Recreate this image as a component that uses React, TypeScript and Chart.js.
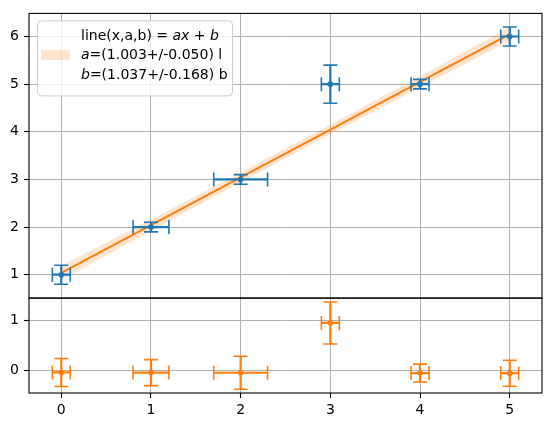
import React, { useEffect, useRef } from 'react';
import { Chart, registerables } from 'chart.js';

Chart.register(...registerables);

// ---- data ----
const xValues = [0, 1, 2, 3, 4, 5];
const yValues = [1, 2, 3, 5, 5, 6];
const xErrors = [0.1, 0.2, 0.3, 0.1, 0.1, 0.1];
const yErrors = [0.2, 0.1, 0.1, 0.4, 0.1, 0.2];
const fitValues = [1.037, 2.04, 3.043, 4.046, 5.049, 6.052];
const bandHalfWidths = [0.15, 0.12, 0.1, 0.1, 0.12, 0.14];
const residualValues = [-0.037, -0.04, -0.043, 0.954, -0.049, -0.052];
const residualErrors = [0.28, 0.26, 0.33, 0.42, 0.18, 0.26];
const xTicks = [0, 1, 2, 3, 4, 5];
const topYTicks = [1, 2, 3, 4, 5, 6];
const bottomYTicks = [0, 1];
const legendLines = [
  [
    { text: 'line(x,a,b) = ', italic: false },
    { text: 'ax', italic: true },
    { text: ' + ', italic: false },
    { text: 'b', italic: true },
  ],
  [
    { text: 'a', italic: true },
    { text: '=(1.003+/-0.050) l', italic: false },
  ],
  [
    { text: 'b', italic: true },
    { text: '=(1.037+/-0.168) b', italic: false },
  ],
];

const BLUE = '#1f77b4';
const ORANGE = '#ff7f0e';
const BAND = 'rgba(255,127,14,0.2)';
const FONT = 'DejaVu Sans';

function drawErrorBars(chart: any, yScaleId: string, ys: number[], yerrs: number[], color: string) {
  const ctx = chart.ctx;
  const xs = chart.scales.x;
  const yS = chart.scales[yScaleId];
  const cap = 7;
  ctx.save();
  ctx.strokeStyle = color;
  ctx.lineCap = 'butt';
  for (let i = 0; i < xValues.length; i++) {
    const px = xs.getPixelForValue(xValues[i]);
    const py = yS.getPixelForValue(ys[i]);
    const x0 = xs.getPixelForValue(xValues[i] - xErrors[i]);
    const x1 = xs.getPixelForValue(xValues[i] + xErrors[i]);
    const y0 = yS.getPixelForValue(ys[i] - yerrs[i]);
    const y1 = yS.getPixelForValue(ys[i] + yerrs[i]);
    ctx.lineWidth = 2.2;
    ctx.beginPath();
    ctx.moveTo(x0, py);
    ctx.lineTo(x1, py);
    ctx.moveTo(px, y0);
    ctx.lineTo(px, y1);
    ctx.stroke();
    ctx.lineWidth = 1.6;
    ctx.beginPath();
    ctx.moveTo(x0, py - cap);
    ctx.lineTo(x0, py + cap);
    ctx.moveTo(x1, py - cap);
    ctx.lineTo(x1, py + cap);
    ctx.moveTo(px - cap, y0);
    ctx.lineTo(px + cap, y0);
    ctx.moveTo(px - cap, y1);
    ctx.lineTo(px + cap, y1);
    ctx.stroke();
  }
  ctx.restore();
}

const errorBarPlugin = {
  id: 'errorBars',
  beforeDatasetDraw(chart: any, args: any) {
    if (args.index === 0) drawErrorBars(chart, 'y', yValues, yErrors, BLUE);
    if (args.index === 1) drawErrorBars(chart, 'yr', residualValues, residualErrors, ORANGE);
  },
};

const framePlugin = {
  id: 'frames',
  afterDatasetsDraw(chart: any) {
    const ctx = chart.ctx;
    const xs = chart.scales.x;
    const yt = chart.scales.y;
    const yb = chart.scales.yr;
    ctx.save();
    ctx.strokeStyle = '#000';
    ctx.lineWidth = 1.1;
    ctx.strokeRect(xs.left, yt.top, xs.right - xs.left, yt.bottom - yt.top);
    ctx.strokeRect(xs.left, yb.top, xs.right - xs.left, yb.bottom - yb.top);
    ctx.restore();
  },
};

const legendPlugin = {
  id: 'mathLegend',
  afterDraw(chart: any) {
    const ctx = chart.ctx;
    const area = chart.chartArea;
    const bx = area.left + 8.5;
    const by = area.top + 7.5;
    const bw = 195;
    const bh = 75;
    ctx.save();
    ctx.beginPath();
    if (ctx.roundRect) ctx.roundRect(bx, by, bw, bh, 4);
    else ctx.rect(bx, by, bw, bh);
    ctx.fillStyle = 'rgba(255,255,255,0.8)';
    ctx.fill();
    ctx.strokeStyle = '#cccccc';
    ctx.lineWidth = 1;
    ctx.stroke();
    // handle
    ctx.fillStyle = BAND;
    ctx.fillRect(bx + 3.5, by + 29, 29, 10);
    // text
    ctx.fillStyle = '#000';
    ctx.textBaseline = 'alphabetic';
    ctx.textAlign = 'left';
    const tx = bx + 43.5;
    for (let l = 0; l < legendLines.length; l++) {
      let x = tx;
      const y = by + 19 + l * 19.5;
      for (const seg of legendLines[l]) {
        ctx.font = (seg.italic ? 'italic ' : '') + '14px "' + FONT + '"';
        ctx.fillText(seg.text, x, y);
        x += ctx.measureText(seg.text).width;
      }
    }
    ctx.restore();
  },
};

const gridCfg = { color: '#b0b0b0', lineWidth: 1, tickColor: '#000', tickLength: 5, tickWidth: 1.1 };
const tickFont = { family: FONT, size: 14 };

export default function App() {
  const ref = useRef<HTMLCanvasElement | null>(null);
  useEffect(() => {
    if (!ref.current) return;
    const lower = xValues.map((x, i) => ({ x, y: fitValues[i] - bandHalfWidths[i] }));
    const upper = xValues.map((x, i) => ({ x, y: fitValues[i] + bandHalfWidths[i] }));
    const chart = new Chart(ref.current, {
      type: 'scatter',
      data: {
        datasets: [
          {
            label: 'data',
            data: xValues.map((x, i) => ({ x, y: yValues[i] })),
            yAxisID: 'y',
            backgroundColor: BLUE,
            borderColor: BLUE,
            borderWidth: 0,
            pointRadius: 2.8,
            showLine: false,
          },
          {
            label: 'residuals',
            data: xValues.map((x, i) => ({ x, y: residualValues[i] })),
            yAxisID: 'yr',
            backgroundColor: ORANGE,
            borderColor: ORANGE,
            borderWidth: 0,
            pointRadius: 2.8,
            showLine: false,
          },
          {
            label: 'fit',
            type: 'line',
            data: xValues.map((x, i) => ({ x, y: fitValues[i] })),
            yAxisID: 'y',
            borderColor: ORANGE,
            borderWidth: 2,
            pointRadius: 0,
            fill: false,
            tension: 0,
          },
          {
            label: 'bandUpper',
            type: 'line',
            data: upper,
            yAxisID: 'y',
            borderWidth: 0,
            borderColor: 'rgba(0,0,0,0)',
            pointRadius: 0,
            backgroundColor: BAND,
            fill: '+1',
            tension: 0,
          },
          {
            label: 'bandLower',
            type: 'line',
            data: lower,
            yAxisID: 'y',
            borderWidth: 0,
            borderColor: 'rgba(0,0,0,0)',
            pointRadius: 0,
            fill: false,
            tension: 0,
          },
        ] as any,
      },
      options: {
        animation: false,
        responsive: false,
        devicePixelRatio: 1,
        layout: { padding: { left: 0, top: 9, right: 8, bottom: 0 } },
        plugins: { legend: { display: false }, tooltip: { enabled: false } },
        scales: {
          x: {
            type: 'linear',
            position: 'bottom',
            min: -0.36,
            max: 5.36,
            afterBuildTicks: (s: any) => {
              s.ticks = xTicks.map((v) => ({ value: v }));
            },
            afterFit: (s: any) => {
              s.height = 34;
            },
            grid: gridCfg,
            border: { display: false },
            ticks: { color: '#000', font: tickFont, padding: 4, maxRotation: 0, autoSkip: false },
          },
          yr: {
            type: 'linear',
            position: 'left',
            stack: 'v',
            stackWeight: 1,
            min: -0.448,
            max: 1.452,
            afterBuildTicks: (s: any) => {
              s.ticks = bottomYTicks.map((v) => ({ value: v }));
            },
            afterFit: (s: any) => {
              s.width = 29;
            },
            grid: gridCfg,
            border: { display: false },
            ticks: { color: '#000', font: tickFont, padding: 5, autoSkip: false },
          },
          y: {
            type: 'linear',
            position: 'left',
            stack: 'v',
            stackWeight: 3,
            min: 0.509,
            max: 6.485,
            afterBuildTicks: (s: any) => {
              s.ticks = topYTicks.map((v) => ({ value: v }));
            },
            afterFit: (s: any) => {
              s.width = 29;
            },
            grid: gridCfg,
            border: { display: false },
            ticks: { color: '#000', font: tickFont, padding: 5, autoSkip: false },
          },
        } as any,
      },
      plugins: [errorBarPlugin, framePlugin, legendPlugin],
    });
    return () => chart.destroy();
  }, []);
  return (
    <div style={{ position: 'fixed', left: 0, top: 0, width: 550, height: 427, background: '#fff' }}>
      <canvas ref={ref} width={550} height={427} style={{ width: 550, height: 427, display: 'block' }} />
    </div>
  );
}
